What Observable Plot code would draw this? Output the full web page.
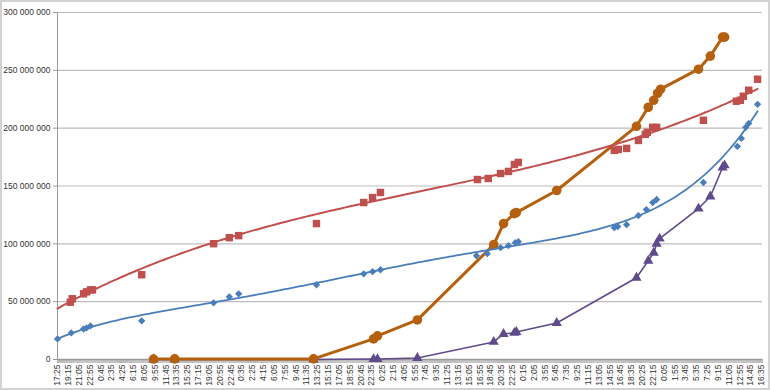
<!DOCTYPE html>
<html><head><meta charset="utf-8">
<script src="https://cdn.jsdelivr.net/npm/d3@7"></script>
<script src="https://cdn.jsdelivr.net/npm/@observablehq/plot@0.6"></script>
<style>
body{margin:0;background:#fff;}
#chart svg{display:block;outline:2px solid #d2d2d2;outline-offset:-2px;}
</style></head><body><div id="chart"></div>
<script>
// x values: minutes elapsed since the first label (17:25 on day 1); y values: millions
const startClock = "17:25";
const labelStepMinutes = 110;
const xMaxMinutes = 7160;

const blueTimes  = [0,140,265,295,335,855,1585,1745,1840,2630,3110,3200,3280,4255,4365,4500,4580,4650,4680,5655,5690,5780,5900,5980,6045,6085,6560,6905,6945,6990,7020,7110];
const blueValues = [17.8,23.0,26.4,27.3,29.0,33.4,49.0,54.2,56.8,64.6,74.1,75.9,77.6,89.7,91.5,96.7,98.4,101.0,101.9,114.0,114.9,116.6,124.4,129.6,135.7,138.3,153.0,184.2,191.1,200.7,204.1,220.6];

const redTimes  = [130,150,265,295,335,355,855,1585,1745,1840,2630,3110,3200,3280,4265,4375,4500,4580,4640,4680,5655,5695,5780,5900,5970,5990,6045,6085,6560,6895,6935,6965,7020,7110];
const redValues = [49.5,52.5,56.8,58.5,60.2,60.2,73.3,100.1,105.3,107.1,117.5,135.7,140.0,144.4,155.6,156.5,160.8,162.6,168.6,170.4,180.8,181.6,182.5,189.4,194.6,196.4,200.7,200.7,206.8,223.3,224.1,227.6,232.8,242.3];

const orangeTimes  = [975,1190,2600,3210,3250,3655,4430,4530,4640,4660,5070,5880,6000,6055,6095,6125,6510,6630,6755,6775];
const orangeValues = [0.4,0.5,0.5,17.8,20.4,34.2,99.3,117.5,126.1,127.0,146.1,201.6,218.1,224.1,230.2,233.7,251.0,262.3,278.7,278.7];

const purpleTimes  = [975,1190,2600,3210,3250,3655,4430,4530,4640,4660,5070,5880,6000,6055,6085,6115,6510,6630,6755,6775];
const purpleValues = [0,0,0,0.4,0.4,1.3,15.2,22.1,23.0,23.8,31.6,70.7,85.4,92.3,100.1,104.5,130.5,140.9,166.0,167.8];

const yTicks = [0,50,100,150,200,250,300];

const colors = {blue:"#4a7ebb", red:"#c0504d", orange:"#b5600e", purple:"#5f4a8b"};

const toPts = (ts, vs) => ts.map((t,i) => ({t, v: vs[i]*1e6}));
const blue = toPts(blueTimes, blueValues);
const red = toPts(redTimes, redValues);
const orange = toPts(orangeTimes, orangeValues);
const purple = toPts(purpleTimes, purpleValues);

// polynomial least-squares trendline, like the spreadsheet's trendline
function polyFit(pts, order) {
  const n = order + 1, s = 1000;
  const A = Array.from({length:n}, () => new Array(n+1).fill(0));
  for (const p of pts) {
    const x = p.t / s;
    for (let i=0;i<n;i++) {
      for (let j=0;j<n;j++) A[i][j] += Math.pow(x, i+j);
      A[i][n] += p.v * Math.pow(x, i);
    }
  }
  for (let c=0;c<n;c++) {
    let piv = c;
    for (let r=c+1;r<n;r++) if (Math.abs(A[r][c])>Math.abs(A[piv][c])) piv=r;
    [A[c],A[piv]] = [A[piv],A[c]];
    for (let r=0;r<n;r++) if (r!==c) {
      const f = A[r][c]/A[c][c];
      for (let k=c;k<=n;k++) A[r][k] -= f*A[c][k];
    }
  }
  const coef = A.map((row,i)=>row[n]/row[i]);
  return t => coef.reduce((acc,c,i)=>acc + c*Math.pow(t/s,i), 0);
}
function trend(pts, order, t0, t1) {
  const f = polyFit(pts, order);
  return d3.range(0, 201).map(i => { const t = t0 + (t1-t0)*i/200; return {t, v: f(t)}; });
}
const blueTrend = trend(blue, 5, 0, 7110);
const redTrend = trend(red, 3, 0, 7110);

const [sh, sm] = startClock.split(":").map(Number);
const fmtT = t => { const m = (sh*60 + sm + t) % 1440; return Math.floor(m/60) + ":" + String(m%60).padStart(2,"0"); };
const fmtY = v => d3.format(",")(v).replace(/,/g, " ");

const chart = Plot.plot({
  width: 770, height: 390,
  marginLeft: 57, marginRight: 8, marginTop: 12, marginBottom: 31,
  style: {fontFamily: "'Liberation Sans', sans-serif", fontSize: "8.5px", color: "#333", background: "#fff"},
  x: {domain: [0, xMaxMinutes], label: null},
  y: {domain: [0, 300e6], label: null},
  marks: [
    Plot.gridY(yTicks.map(d=>d*1e6), {stroke: "#bdbdbd", strokeOpacity: 1, strokeWidth: 1.2}),
    Plot.axisY(yTicks.map(d=>d*1e6), {tickFormat: fmtY, tickSize: 4, tickPadding: 3, stroke: "#999", label: null}),
    Plot.axisX(d3.range(0, xMaxMinutes + 1, 10), {tickSize: 4, tickFormat: () => "", stroke: "#aaa", strokeOpacity: 0.8, label: null}),
    Plot.axisX(d3.range(0, xMaxMinutes, labelStepMinutes), {tickFormat: fmtT, tickSize: 0, tickRotate: -90, tickPadding: 5, label: null}),
    Plot.ruleX([0], {stroke: "#999", y1: 0, y2: 300e6}),
    Plot.ruleY([0], {stroke: "#9a9a9a", strokeWidth: 1.5}),
    // purple series
    Plot.line(purple, {x: "t", y: "v", stroke: colors.purple, strokeWidth: 1.6}),
    Plot.dot(purple, {x: "t", y: "v", symbol: "triangle", r: 3.8, fill: colors.purple}),
    // orange series
    Plot.line(orange, {x: "t", y: "v", stroke: colors.orange, strokeWidth: 3}),
    Plot.dot(orange, {x: "t", y: "v", symbol: "circle", r: 4.8, fill: colors.orange}),
    // red series + trend
    Plot.dot(red, {x: "t", y: "v", symbol: "square", r: 4.2, fill: colors.red}),
    Plot.line(redTrend, {x: "t", y: "v", stroke: colors.red, strokeWidth: 2}),
    // blue series + trend
    Plot.dot(blue, {x: "t", y: "v", symbol: "diamond2", r: 3.3, fill: colors.blue}),
    Plot.line(blueTrend, {x: "t", y: "v", stroke: colors.blue, strokeWidth: 1.8})
  ]
});
document.getElementById("chart").appendChild(chart);
</script></body></html>
